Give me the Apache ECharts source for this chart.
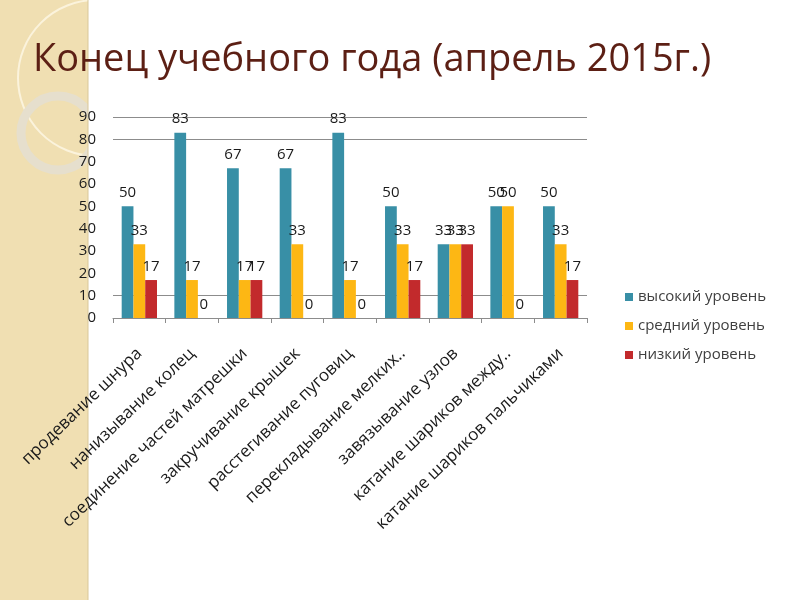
<!DOCTYPE html>
<html>
<head>
<meta charset="utf-8">
<script src="https://cdn.jsdelivr.net/npm/echarts@6/dist/echarts.min.js"></script>
<style>
  html, body { margin: 0; padding: 0; background: #fff; }
  #chart { width: 800px; height: 600px; }
</style>
</head>
<body>
<div id="chart"></div>
<script>
// данные диаграммы
const categories = [
  'продевание шнура',
  'нанизывание колец',
  'соединение частей матрешки',
  'закручивание крышек',
  'расстегивание пуговиц',
  'перекладывание мелких..',
  'завязывание узлов',
  'катание шариков между..',
  'катание шариков пальчиками',
];
const seriesNames = ['высокий уровень', 'средний уровень', 'низкий уровень'];
const high = [50, 83, 67, 67, 83, 50, 33, 50, 50];
const middle = [33, 17, 17, 33, 17, 33, 33, 50, 33];
const low = [17, 0, 17, 0, 0, 17, 33, 0, 17];
const yTicks = [0, 10, 20, 30, 40, 50, 60, 70, 80, 90];

const FONT = '"Open Sans", sans-serif';
const colors = ['#388fa6', '#fdb714', '#c22a2c'];

// видимые линии сетки как на слайде: 0, 10, 80, 90
const gridColors = yTicks.map((v) => (v === 10 || v === 80 || v === 90 || v === 0) ? '#8c8c8c' : 'rgba(0,0,0,0)');

const chart = echarts.init(document.getElementById('chart'));

const makeSeries = (name, data, i) => ({
  name,
  type: 'bar',
  data,
  barGap: '0%',
  barCategoryGap: '33%',
  itemStyle: {color: colors[i]},
  label: {
    show: true,
    position: 'top',
    distance: 6,
    color: '#1a1a1a',
    fontSize: 15,
    fontFamily: FONT,
  },
});

const options = {
  animation: false,
  backgroundColor: '#fff',
  graphic: [
    {type: 'rect', z: -10, shape: {x: 0, y: 0, width: 88, height: 600}, style: {fill: '#f0dfb2'}},
    {type: 'circle', z: -10, shape: {cx: 96, cy: 78, r: 78}, style: {fill: 'none', stroke: '#fbf3dc', lineWidth: 2}},
    {type: 'circle', z: -10, shape: {cx: 58, cy: 133, r: 37}, style: {fill: 'none', stroke: '#e6dfcd', lineWidth: 9}},
    {type: 'rect', z: -10, shape: {x: 88, y: 0, width: 712, height: 600}, style: {fill: '#fff'}},
    {type: 'line', z: -10, shape: {x1: 88, y1: 0, x2: 88, y2: 600}, style: {stroke: '#d9c79a', lineWidth: 1}},
    {
      type: 'text', left: 33, top: 41, z: 10,
      style: {text: 'Конец учебного года (апрель 2015г.)', fill: '#5c1f14', font: '38px ' + FONT},
    },
  ],
  legend: {
    orient: 'vertical',
    left: 620,
    top: 284,
    itemWidth: 8,
    itemHeight: 8,
    itemGap: 13,
    icon: 'rect',
    data: seriesNames,
    textStyle: {color: '#404040', fontSize: 15, fontFamily: FONT, lineHeight: 16},
  },
  grid: {left: 113, right: 213, top: 117, bottom: 282, containLabel: false},
  xAxis: {
    type: 'category',
    data: categories,
    axisLine: {show: true, lineStyle: {color: '#8c8c8c'}},
    axisTick: {show: true, length: 5, lineStyle: {color: '#8c8c8c'}},
    axisLabel: {
      rotate: 44,
      interval: 0,
      margin: 33,
      color: '#1a1a1a',
      fontSize: 17,
      fontFamily: FONT,
    },
  },
  yAxis: {
    type: 'value',
    min: 0,
    max: 90,
    interval: 10,
    axisLine: {show: false},
    axisTick: {show: false},
    axisLabel: {color: '#1a1a1a', fontSize: 15, fontFamily: FONT, margin: 17},
    splitLine: {show: true, lineStyle: {color: gridColors, width: 1}},
  },
  series: [
    makeSeries(seriesNames[0], high, 0),
    makeSeries(seriesNames[1], middle, 1),
    makeSeries(seriesNames[2], low, 2),
  ],
};

chart.setOption(options);
window.addEventListener('resize', chart.resize);
</script>
</body>
</html>
